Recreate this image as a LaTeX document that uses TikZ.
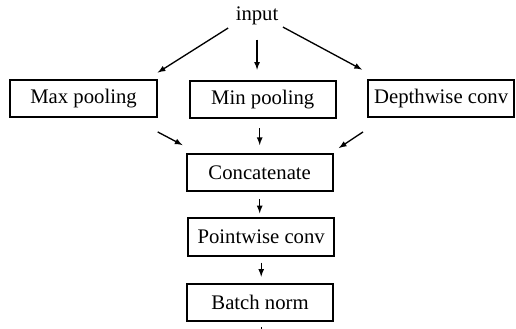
\documentclass[tikz,border=0pt]{standalone}
\usepackage{fontspec}
\setmainfont{Liberation Serif}
\usepackage{tikz}
\usetikzlibrary{calc}

\begin{document}
\begin{tikzpicture}[
        block/.style={draw, line width=1.5pt, minimum width=3.87cm, minimum height=0.99cm, inner sep=0pt},
        arr/.style={-latex, line width=1pt}
    ]
        \useasboundingbox (0,0) rectangle (13.65,8.70);
        \fontsize{15.6pt}{18pt}\selectfont

        % Input and the three branches
        \node[anchor=base, inner sep=0pt] (input) at (6.80,8.16) {input};
        \node[block] (maxp) at (2.21,6.10) {Max pooling};
        \node[block] (minp) at (6.95,6.07) {Min pooling};
        \node[block] (depth) at (11.67,6.10) {Depthwise conv};

        % Merge and the rest of the block
        \node[block] (concat) at (6.87,4.13) {Concatenate};
        \node[block] (point) at (6.91,2.43) {Pointwise conv};
        \node[block] (batch) at (6.88,0.70) {Batch norm};
        \coordinate (out) at (6.92,-0.40);

        % Arrows from the input
        \draw[arr] ([shift={(-21.75pt,-2.2pt)}]input.south) -- ([yshift=4.5pt]maxp.north east);
        \draw[arr, shorten <=11pt, shorten >=7.5pt] (input.south) -- (input.south |- minp.north);
        \draw[arr] ([shift={(19.5pt,-1.5pt)}]input.south) -- ([shift={(-3.75pt,6.75pt)}]depth.north west);

        % Arrows into Concatenate
        \draw[arr] ([yshift=-10.5pt]maxp.south east) -- ([shift={(-2.25pt,6pt)}]concat.north west);
        \draw[arr, shorten <=6.75pt, shorten >=6pt] (concat.north |- minp.south) -- (concat.north);
        \draw[arr] ([shift={(-3pt,-10.5pt)}]depth.south west) -- ([shift={(3.75pt,3.75pt)}]concat.north east);

        % Down the column
        \draw[arr, shorten <=5.25pt, shorten >=3pt] (concat.south) -- (concat.south |- point.north);
        \draw[arr, shorten <=4.5pt, shorten >=4.5pt] (point.south) -- (point.south |- batch.north);
        \draw[arr, shorten <=3.5pt] (batch.south -| out) -- (out);
    \end{tikzpicture}
\end{document}
